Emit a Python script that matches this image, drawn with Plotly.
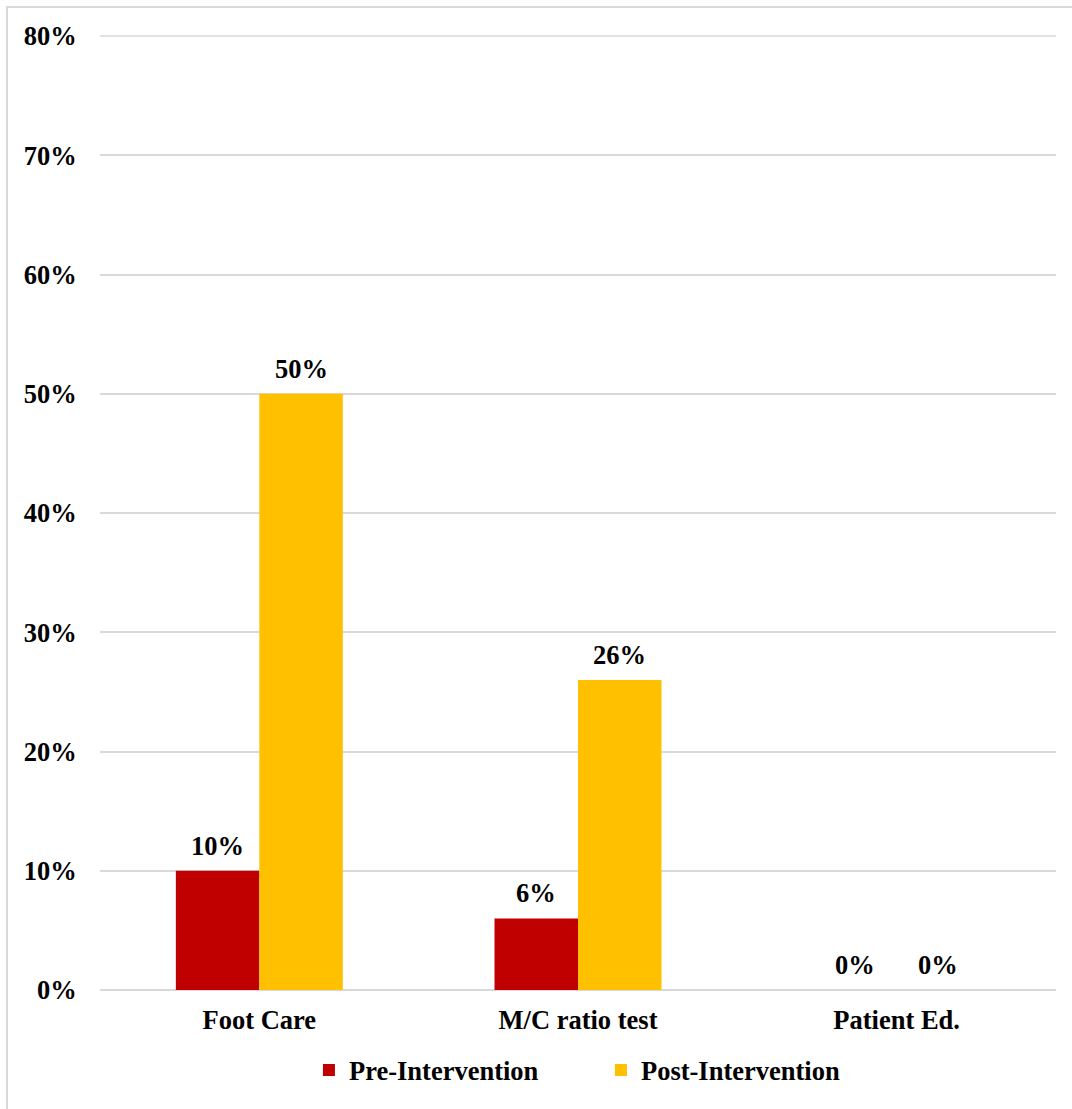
import plotly.graph_objects as go

categories = ["Foot Care", "M/C ratio test", "Patient Ed."]
pre_values = [0.10, 0.06, 0.00]
post_values = [0.50, 0.26, 0.00]
series_names = ["Pre-Intervention", "Post-Intervention"]
series_colors = ["#C00000", "#FFC000"]
tick_values = [0, 0.1, 0.2, 0.3, 0.4, 0.5, 0.6, 0.7, 0.8]
tick_labels = ["0%", "10%", "20%", "30%", "40%", "50%", "60%", "70%", "80%"]

FONT = "Liberation Serif"
FS = 26.5
GRID = "#d9d9d9"
fig = go.Figure()
for name, vals, col in zip(series_names, [pre_values, post_values], series_colors):
    fig.add_trace(go.Bar(
        x=categories, y=vals, name=name, marker=dict(color=col, line=dict(width=0)),
    ))

# value labels above each bar
plot_w = 1072 - 100 - 16
cat_w = plot_w / len(categories)
bargap = 0.476
bar_w = cat_w * (1 - bargap) / 2
for i, vals in enumerate([pre_values, post_values]):
    shift = (-0.5 if i == 0 else 0.5) * bar_w
    for c, v in zip(categories, vals):
        fig.add_annotation(
            x=c, y=v, xref="x", yref="y", text=f"<b>{round(v * 100)}%</b>",
            showarrow=False, yanchor="bottom", xshift=shift, yshift=8,
            font=dict(family=FONT, size=FS, color="#000000"),
        )

fig.update_layout(
    width=1072, height=1109,
    margin=dict(l=100, r=16, t=36, b=119),
    paper_bgcolor="white", plot_bgcolor="white",
    barmode="group", bargap=bargap, bargroupgap=0,
    font=dict(family=FONT, size=FS, color="#000000"),
    showlegend=True,
    legend=dict(
        orientation="h", x=0.524, xanchor="center", y=-0.059, yanchor="top",
        font=dict(family=FONT, size=FS, color="#000000", weight="bold"),
        itemwidth=30, tracegroupgap=0,
        entrywidth=247, entrywidthmode="pixels",
    ),
    xaxis=dict(
        showgrid=False, showline=False, zeroline=False,
        tickfont=dict(family=FONT, size=FS, color="#000000", weight="bold"),
        ticks="outside", ticklen=6, tickcolor="rgba(0,0,0,0)",
    ),
    yaxis=dict(
        range=[0, 0.8], tickvals=tick_values, ticktext=tick_labels,
        showgrid=True, gridcolor=GRID, gridwidth=1.5,
        zeroline=True, zerolinecolor=GRID, zerolinewidth=1.5,
        showline=False,
        tickfont=dict(family=FONT, size=FS, color="#000000", weight="bold"),
        ticks="outside", ticklen=17, tickcolor="rgba(0,0,0,0)",
    ),
    shapes=[
        # top gridline at the end of the axis range
        dict(type="line", xref="paper", yref="paper", x0=0, x1=1, y0=1, y1=1,
             line=dict(color=GRID, width=1.5), layer="below"),
        # chart frame
        dict(type="rect", xref="paper", yref="paper",
             x0=-93 / plot_w, x1=1.1, y0=-0.2, y1=1 + 29 / (1109 - 36 - 119),
             line=dict(color=GRID, width=2), fillcolor="rgba(0,0,0,0)", layer="below"),
    ],
)

fig.write_html("out.html")
